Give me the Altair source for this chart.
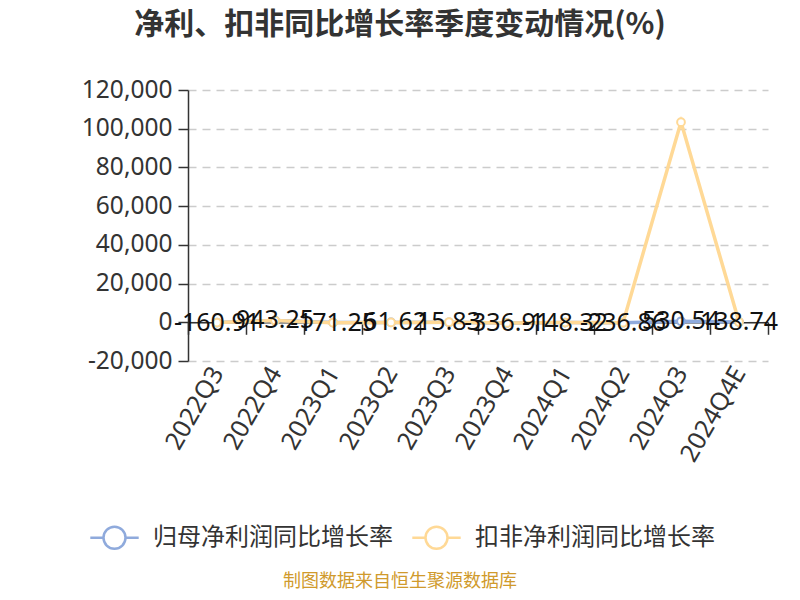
import altair as alt
import pandas as pd

quarters = ["2022Q3", "2022Q4", "2023Q1", "2023Q2", "2023Q3",
            "2023Q4", "2024Q1", "2024Q2", "2024Q3", "2024Q4E"]
net_growth = [-160.91, 943.25, -171.25, -61.62, 15.83,
              -336.91, -148.32, -236.86, 530.54, 138.74]
deduct_growth = [-150.0, 900.0, -180.0, -70.0, 20.0,
                 -330.0, -140.0, -230.0, 103400.0, 150.0]
series_names = ["归母净利润同比增长率", "扣非净利润同比增长率"]
series_colors = ["#8FAADC", "#FFD996"]
y_ticks = [-20000, 0, 20000, 40000, 60000, 80000, 100000, 120000]
title_text = "净利、扣非同比增长率季度变动情况(%)"
source_text = "制图数据来自恒生聚源数据库"

rows = []
for q, a, b in zip(quarters, net_growth, deduct_growth):
    rows.append({"quarter": q, "series": series_names[0], "value": a, "label": f"{a:.2f}"})
    rows.append({"quarter": q, "series": series_names[1], "value": b, "label": f"{b:.2f}"})
df = pd.DataFrame(rows)

W, H = 580, 271
zero_offset = H * 20000 / 140000

legend_shape = "M-1,0A1,1 0 1,1 1,0A1,1 0 1,1 -1,0Z M-2.2,0L-1,0 M1,0L2.2,0"

x_enc = alt.X(
    "quarter:N", sort=quarters, title=None,
    scale=alt.Scale(type="band", paddingInner=0, paddingOuter=0),
    axis=alt.Axis(
        offset=-zero_offset, tickBand="extent", domainColor="#333333",
        domainWidth=1.5, tickColor="#333333", tickWidth=1.5, tickSize=12,
        labelAngle=-60, labelFontSize=25, labelFont="Noto Sans",
        labelColor="#333333", labelPadding=34, grid=False,
    ),
)
y_enc = alt.Y(
    "value:Q", title=None,
    scale=alt.Scale(domain=[-20000, 120000], nice=False, zero=False),
    axis=alt.Axis(
        values=y_ticks, format=",.0f", labelExpr="replace(datum.label, '\u2212', '-')",
        labelFontSize=24.5, labelFont="Noto Sans", labelColor="#333333",
        labelPadding=6, tickSize=10, tickColor="#333333", tickWidth=1.5,
        domainColor="#333333", domainWidth=1.5,
        grid=True, gridDash=[8, 6], gridColor="#cccccc", gridWidth=1.5,
    ),
)
color_enc = alt.Color(
    "series:N",
    scale=alt.Scale(domain=series_names, range=series_colors),
    legend=alt.Legend(
        title=None, orient="none", legendX=-86, legendY=435,
        direction="horizontal", symbolType=legend_shape, symbolSize=484,
        symbolFillColor="white", symbolStrokeWidth=2.5,
        labelFontSize=24, labelFont="Noto Sans CJK SC", labelColor="#333333",
        labelOffset=26, columnPadding=14, padding=0, labelLimit=0,
    ),
)

base = alt.Chart(df)
layers = []
for name in series_names:
    part = base.transform_filter(alt.datum.series == name)
    layers.append(part.mark_line(strokeWidth=3.5).encode(x=x_enc, y=y_enc, color=color_enc))
    layers.append(part.mark_point(shape="circle", filled=False, fill="white", fillOpacity=1,
                                  size=60, strokeWidth=2, opacity=1)
                  .encode(x=x_enc, y=y_enc, color=color_enc))

labels = base.transform_filter(alt.datum.series == series_names[0]).mark_text(
    fontSize=25, font="Noto Sans", color="#111111", baseline="middle", dy=0
).encode(x=x_enc, y=y_enc, text="label:N")

title = alt.Chart(pd.DataFrame({"t": [title_text]})).mark_text(
    fontSize=30, font="Noto Sans CJK SC", fontWeight="bold", color="#333333",
    align="center", baseline="middle"
).encode(x=alt.value(212), y=alt.value(-65), text="t:N")

source = alt.Chart(pd.DataFrame({"t": [source_text]})).mark_text(
    fontSize=18, font="Noto Sans CJK SC", color="#D09A2C",
    align="center", baseline="middle"
).encode(x=alt.value(212), y=alt.value(492), text="t:N")

chart = alt.layer(*layers, labels, title, source).properties(
    width=W, height=H,
    autosize=alt.AutoSizeParams(type="none"),
    padding={"left": 180, "top": 82, "right": 16, "bottom": 231},
).configure_view(stroke=None)

chart.save("out.html", embed_options={"renderer": "svg", "actions": False})
